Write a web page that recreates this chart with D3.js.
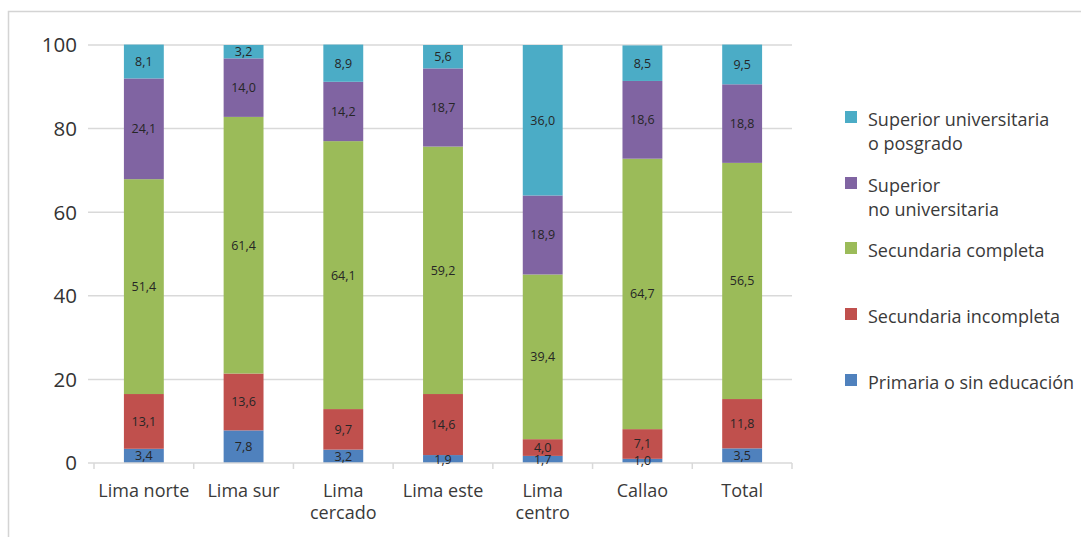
<!DOCTYPE html>
<html>
<head>
<meta charset="utf-8">
<script src="https://d3js.org/d3.v7.min.js"></script>
<style>
  body { margin: 0; background: #fff; }
  svg { display: block; font-family: "Open Sans", "Noto Sans", sans-serif; }
</style>
</head>
<body>
<div id="chart"></div>
<script>
// categories (multi-line labels split on \n)
var categories = ['Lima norte', 'Lima sur', 'Lima\ncercado', 'Lima este', 'Lima\ncentro', 'Callao', 'Total'];

// series, bottom to top
var primaria      = [3.4, 7.8, 3.2, 1.9, 1.7, 1.0, 3.5];
var secIncompleta = [13.1, 13.6, 9.7, 14.6, 4.0, 7.1, 11.8];
var secCompleta   = [51.4, 61.4, 64.1, 59.2, 39.4, 64.7, 56.5];
var supNoUniv     = [24.1, 14.0, 14.2, 18.7, 18.9, 18.6, 18.8];
var supUniv       = [8.1, 3.2, 8.9, 5.6, 36.0, 8.5, 9.5];

var seriesNames = ['Primaria o sin educación', 'Secundaria incompleta', 'Secundaria completa',
                   'Superior\nno universitaria', 'Superior universitaria\no posgrado'];
var seriesColors = ['#4f81bd', '#c0504d', '#9bbb59', '#8064a2', '#4bacc6'];
var yTicks = [0, 20, 40, 60, 80, 100];

var W = 1081, H = 537;
var svg = d3.select('#chart').append('svg').attr('width', W).attr('height', H);

// outer frame
svg.append('rect')
  .attr('x', 8.5).attr('y', 11.5).attr('width', W + 20).attr('height', H + 20)
  .attr('fill', 'none').attr('stroke', '#d4d4d4').attr('stroke-width', 1.5);

var rows = categories.map(function(c, i) {
  return { cat: c, s0: primaria[i], s1: secIncompleta[i], s2: secCompleta[i], s3: supNoUniv[i], s4: supUniv[i] };
});
var keys = ['s0', 's1', 's2', 's3', 's4'];
var stacked = d3.stack().keys(keys)(rows);

var x = d3.scaleBand().domain(categories).range([94, 792]).paddingInner(0.6).paddingOuter(0.3);
var y = d3.scaleLinear().domain([0, 100]).range([463, 45]);

// gridlines
svg.append('g').selectAll('line').data(yTicks.filter(function(t) { return t > 0; })).join('line')
  .attr('x1', 88).attr('x2', 792)
  .attr('y1', function(d) { return y(d); }).attr('y2', function(d) { return y(d); })
  .attr('stroke', '#d9d9d9').attr('stroke-width', 1.5);

// y labels
svg.append('g').selectAll('text').data(yTicks).join('text')
  .attr('x', 77).attr('y', function(d) { return y(d); })
  .attr('dy', '0.36em').attr('text-anchor', 'end')
  .attr('font-size', 20.5).attr('fill', '#333')
  .text(function(d) { return d; });

// bars
var layers = svg.append('g').selectAll('g').data(stacked).join('g')
  .attr('fill', function(d, i) { return seriesColors[i]; });

layers.selectAll('rect').data(function(d) { return d; }).join('rect')
  .attr('x', function(d) { return x(d.data.cat); })
  .attr('width', x.bandwidth())
  .attr('y', function(d) { return y(d[1]); })
  .attr('height', function(d) { return y(d[0]) - y(d[1]); });

// x axis line and boundary ticks
svg.append('line').attr('x1', 88).attr('x2', 792).attr('y1', 463).attr('y2', 463)
  .attr('stroke', '#d9d9d9').attr('stroke-width', 1.5);
var bounds = categories.map(function(c) { return x(c) - x.step() * x.paddingOuter(); });
bounds.push(792);
svg.append('g').selectAll('line').data(bounds).join('line')
  .attr('x1', function(d) { return d; }).attr('x2', function(d) { return d; })
  .attr('y1', 463).attr('y2', 469)
  .attr('stroke', '#d9d9d9').attr('stroke-width', 1.5);

// value labels, drawn above all bars
var fmt = function(v) { return v.toFixed(1).replace('.', ','); };
var labelG = svg.append('g').selectAll('g').data(stacked).join('g');
labelG.selectAll('text').data(function(d) { return d; }).join('text')
  .attr('x', function(d) { return x(d.data.cat) + x.bandwidth() / 2; })
  .attr('y', function(d) { return y((d[0] + d[1]) / 2); })
  .attr('dy', '0.36em').attr('text-anchor', 'middle')
  .attr('font-size', 12.5).attr('fill', '#262626')
  .text(function(d) { return fmt(d[1] - d[0]); });

// category labels
var catG = svg.append('g').selectAll('text').data(categories).join('text')
  .attr('x', function(d) { return x(d) + x.bandwidth() / 2; })
  .attr('y', 497).attr('text-anchor', 'middle')
  .attr('font-size', 18).attr('fill', '#3a3a3a');
catG.selectAll('tspan').data(function(d) { return d.split('\n'); }).join('tspan')
  .attr('x', function() { return d3.select(this.parentNode).attr('x'); })
  .attr('dy', function(d, i) { return i ? 22 : 0; })
  .text(function(d) { return d; });

// legend, top to bottom
var legendOrder = [4, 3, 2, 1, 0];
var legendY = [126, 192, 257, 323, 389];
var leg = svg.append('g').selectAll('g').data(legendOrder).join('g')
  .attr('transform', function(d, i) { return 'translate(845,' + legendY[i] + ')'; });
leg.append('rect').attr('x', 0).attr('y', -15).attr('width', 12).attr('height', 12)
  .attr('fill', function(d) { return seriesColors[d]; });
var lt = leg.append('text').attr('x', 23).attr('y', 0)
  .attr('font-size', 18).attr('fill', '#3a3a3a');
lt.selectAll('tspan').data(function(d) { return seriesNames[d].split('\n'); }).join('tspan')
  .attr('x', 23).attr('dy', function(d, i) { return i ? 23.5 : 0; })
  .text(function(d) { return d; });
</script>
</body>
</html>
